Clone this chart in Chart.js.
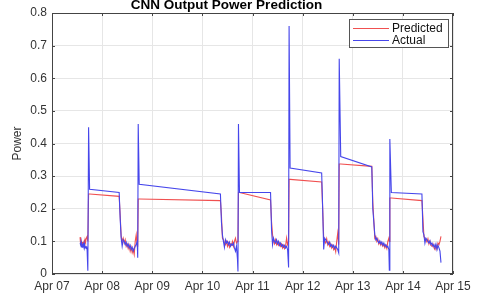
<!DOCTYPE html>
<html>
<head>
<meta charset="utf-8">
<script src="https://cdn.jsdelivr.net/npm/chart.js@4.4.1/dist/chart.umd.min.js"></script>
<style>
  body { margin: 0; background: #fff; }
  #c { display: block; }
</style>
</head>
<body>
<canvas id="c" width="480" height="294"></canvas>
<script>
// --- DATA --- //
// x = days since Apr 07 00:00
const tickLabels = ["Apr 07", "Apr 08", "Apr 09", "Apr 10", "Apr 11", "Apr 12", "Apr 13", "Apr 14", "Apr 15"];

const dayOffset = [
  0.56, 0.57, 0.58, 0.59, 0.60, 0.61, 0.62, 0.63, 0.64, 0.65, 0.66, 0.67, 0.68, 0.69, 0.70, 0.715, 0.73, 0.75, 1.34, 1.36,
  1.38, 1.40, 1.42, 1.44, 1.46, 1.48, 1.50, 1.52, 1.54, 1.56, 1.58, 1.60, 1.62, 1.64, 1.66, 1.68, 1.70, 1.71, 1.72, 1.74, 3.36, 3.38,
  3.40, 3.42, 3.44, 3.46, 3.48, 3.50, 3.52, 3.54, 3.56, 3.58, 3.60, 3.62, 3.64, 3.66, 3.68, 3.70, 3.71, 3.72, 3.74, 4.36, 4.38,
  4.40, 4.42, 4.44, 4.46, 4.48, 4.50, 4.52, 4.54, 4.56, 4.58, 4.60, 4.62, 4.64, 4.66, 4.68, 4.70, 4.72, 4.73, 4.75, 5.38, 5.40,
  5.42, 5.44, 5.46, 5.48, 5.50, 5.52, 5.54, 5.56, 5.58, 5.60, 5.62, 5.64, 5.66, 5.68, 5.70, 5.72, 5.73, 5.76, 6.38, 6.40,
  6.44, 6.46, 6.48, 6.50, 6.52, 6.54, 6.56, 6.58, 6.60, 6.62, 6.64, 6.66, 6.68, 6.70, 6.72, 6.73, 6.74, 6.77, 7.38, 7.40,
  7.42, 7.44, 7.46, 7.48, 7.50, 7.52, 7.54, 7.56, 7.58, 7.60, 7.62, 7.64, 7.66, 7.68, 7.70, 7.72, 7.74, 7.76
];

const predicted = [
  0.113, 0.092, 0.088, 0.096, 0.09, 0.098, 0.085, 0.095, 0.1, 0.092, 0.105, 0.098, 0.108, 0.112, 0.115, 0.1, 0.245, 0.245, 0.238, 0.18,
  0.115, 0.1, 0.11, 0.095, 0.105, 0.085, 0.092, 0.078, 0.088, 0.07, 0.082, 0.065, 0.075, 0.06, 0.1, 0.12, 0.085, 0.09, 0.23, 0.23, 0.225, 0.18,
  0.11, 0.105, 0.095, 0.09, 0.1, 0.085, 0.095, 0.082, 0.092, 0.088, 0.1, 0.085, 0.1, 0.11, 0.095, 0.1, 0.105, 0.25, 0.25, 0.227, 0.16,
  0.12, 0.1, 0.092, 0.105, 0.09, 0.098, 0.088, 0.095, 0.085, 0.092, 0.08, 0.088, 0.078, 0.085, 0.11, 0.09, 0.1, 0.29, 0.29, 0.282, 0.2,
  0.11, 0.1, 0.095, 0.108, 0.09, 0.098, 0.085, 0.092, 0.08, 0.088, 0.075, 0.082, 0.068, 0.1, 0.125, 0.09, 0.337, 0.337, 0.33, 0.22,
  0.11, 0.115, 0.1, 0.108, 0.092, 0.098, 0.088, 0.095, 0.085, 0.09, 0.08, 0.088, 0.078, 0.1, 0.11, 0.1, 0.233, 0.233, 0.225, 0.17,
  0.115, 0.11, 0.105, 0.098, 0.108, 0.092, 0.1, 0.088, 0.085, 0.092, 0.08, 0.075, 0.088, 0.078, 0.095, 0.09, 0.1, 0.115
];

const actual = [
  0.095, 0.09, 0.1, 0.085, 0.082, 0.09, 0.092, 0.088, 0.095, 0.08, 0.085, 0.082, 0.078, 0.085, 0.075, 0.01, 0.45, 0.26, 0.25, 0.17,
  0.11, 0.085, 0.105, 0.1, 0.09, 0.098, 0.085, 0.092, 0.08, 0.088, 0.075, 0.082, 0.07, 0.078, 0.085, 0.09, 0.1, 0.05, 0.46, 0.275, 0.245, 0.16,
  0.12, 0.1, 0.082, 0.105, 0.095, 0.1, 0.09, 0.098, 0.085, 0.092, 0.088, 0.095, 0.08, 0.07, 0.085, 0.045, 0.008, 0.46, 0.25, 0.25, 0.135,
  0.09, 0.11, 0.1, 0.095, 0.105, 0.092, 0.1, 0.088, 0.095, 0.085, 0.09, 0.082, 0.088, 0.08, 0.085, 0.075, 0.02, 0.76, 0.325, 0.31, 0.2,
  0.075, 0.11, 0.105, 0.1, 0.095, 0.09, 0.098, 0.085, 0.09, 0.082, 0.088, 0.078, 0.085, 0.08, 0.075, 0.065, 0.66, 0.36, 0.328, 0.2,
  0.12, 0.105, 0.11, 0.1, 0.095, 0.102, 0.092, 0.098, 0.088, 0.095, 0.085, 0.09, 0.082, 0.085, 0.075, 0.012, 0.414, 0.25, 0.245, 0.13,
  0.12, 0.095, 0.11, 0.105, 0.1, 0.095, 0.102, 0.09, 0.095, 0.085, 0.09, 0.08, 0.092, 0.075, 0.088, 0.08, 0.07, 0.035
];

const toPoints = (ys) => ys.map((y, i) => ({ x: dayOffset[i], y: y }));

const FONT = "'Liberation Sans', Arial, sans-serif";
const TEXT = "#333333";

// box, inward ticks and legend drawn like the MATLAB figure
const boxLegend = {
  id: "boxLegend",
  afterDraw(chart) {
    const { ctx, chartArea: a, scales } = chart;
    ctx.save();
    ctx.strokeStyle = "#444444";
    ctx.lineWidth = 1;
    ctx.strokeRect(a.left + 0.5, a.top + 0.5, a.right - a.left - 1, a.bottom - a.top - 1);
    // inward tick marks
    ctx.beginPath();
    scales.x.ticks.forEach((t) => {
      const px = Math.round(scales.x.getPixelForValue(t.value)) + 0.5;
      ctx.moveTo(px, a.bottom); ctx.lineTo(px, a.bottom - 3);
      ctx.moveTo(px, a.top); ctx.lineTo(px, a.top + 3);
    });
    scales.y.ticks.forEach((t) => {
      const py = Math.round(scales.y.getPixelForValue(t.value)) + 0.5;
      ctx.moveTo(a.left, py); ctx.lineTo(a.left + 3, py);
      ctx.moveTo(a.right, py); ctx.lineTo(a.right - 3, py);
    });
    ctx.stroke();

    // legend box
    const bx = 349, by = 19, bw = 99, bh = 28;
    ctx.fillStyle = "#ffffff";
    ctx.fillRect(bx, by, bw, bh);
    ctx.strokeStyle = "#555555";
    ctx.strokeRect(bx + 0.5, by + 0.5, bw, bh);
    ctx.font = "12px " + FONT;
    ctx.textBaseline = "middle";
    ctx.fillStyle = "#111111";
    chart.data.datasets.forEach((ds, i) => {
      const y = by + 9 + i * 12;
      ctx.strokeStyle = ds.borderColor;
      ctx.beginPath();
      ctx.moveTo(bx + 4, y + 0.5);
      ctx.lineTo(bx + 40, y + 0.5);
      ctx.stroke();
      ctx.fillText(ds.label, bx + 43, y + 1);
    });
    ctx.restore();
  },
};

new Chart(document.getElementById("c"), {
  type: "line",
  data: {
    datasets: [
      {
        label: "Predicted",
        data: toPoints(predicted),
        borderColor: "rgb(240, 80, 80)",
        borderWidth: 1.1,
        pointRadius: 0,
        tension: 0,
        order: 1,
      },
      {
        label: "Actual",
        data: toPoints(actual),
        borderColor: "rgb(70, 70, 235)",
        borderWidth: 1.1,
        pointRadius: 0,
        tension: 0,
        order: 0,
      },
    ],
  },
  options: {
    responsive: false,
    animation: false,
    layout: { padding: { left: 0, right: 27, top: 0, bottom: 0 } },
    plugins: {
      legend: { display: false },
      tooltip: { enabled: false },
      title: {
        display: true,
        text: "CNN Output Power Prediction",
        color: "#000000",
        font: { family: FONT, size: 13.5, weight: "bold", lineHeight: 1 },
        padding: { top: -1, bottom: 0.5 },
      },
    },
    scales: {
      x: {
        type: "linear",
        min: 0,
        max: 8,
        afterFit: (axis) => { axis.height = 20; },
        grid: { color: "#e6e6e6", drawTicks: false },
        border: { display: false },
        ticks: {
          stepSize: 1,
          padding: 5,
          color: TEXT,
          maxRotation: 0,
          font: { family: FONT, size: 12 },
          callback: (v) => tickLabels[v],
        },
      },
      y: {
        min: 0,
        max: 0.8,
        afterFit: (axis) => { axis.width = 52; },
        grid: { color: "#e6e6e6", drawTicks: false },
        border: { display: false },
        title: {
          display: true,
          text: "Power",
          color: TEXT,
          font: { family: FONT, size: 12 },
          padding: { top: 10, bottom: 0 },
        },
        ticks: {
          stepSize: 0.1,
          padding: 5,
          color: TEXT,
          font: { family: FONT, size: 12 },
          callback: (v) => (v === 0 ? "0" : v.toFixed(1)),
        },
      },
    },
  },
  plugins: [boxLegend],
});
</script>
</body>
</html>
